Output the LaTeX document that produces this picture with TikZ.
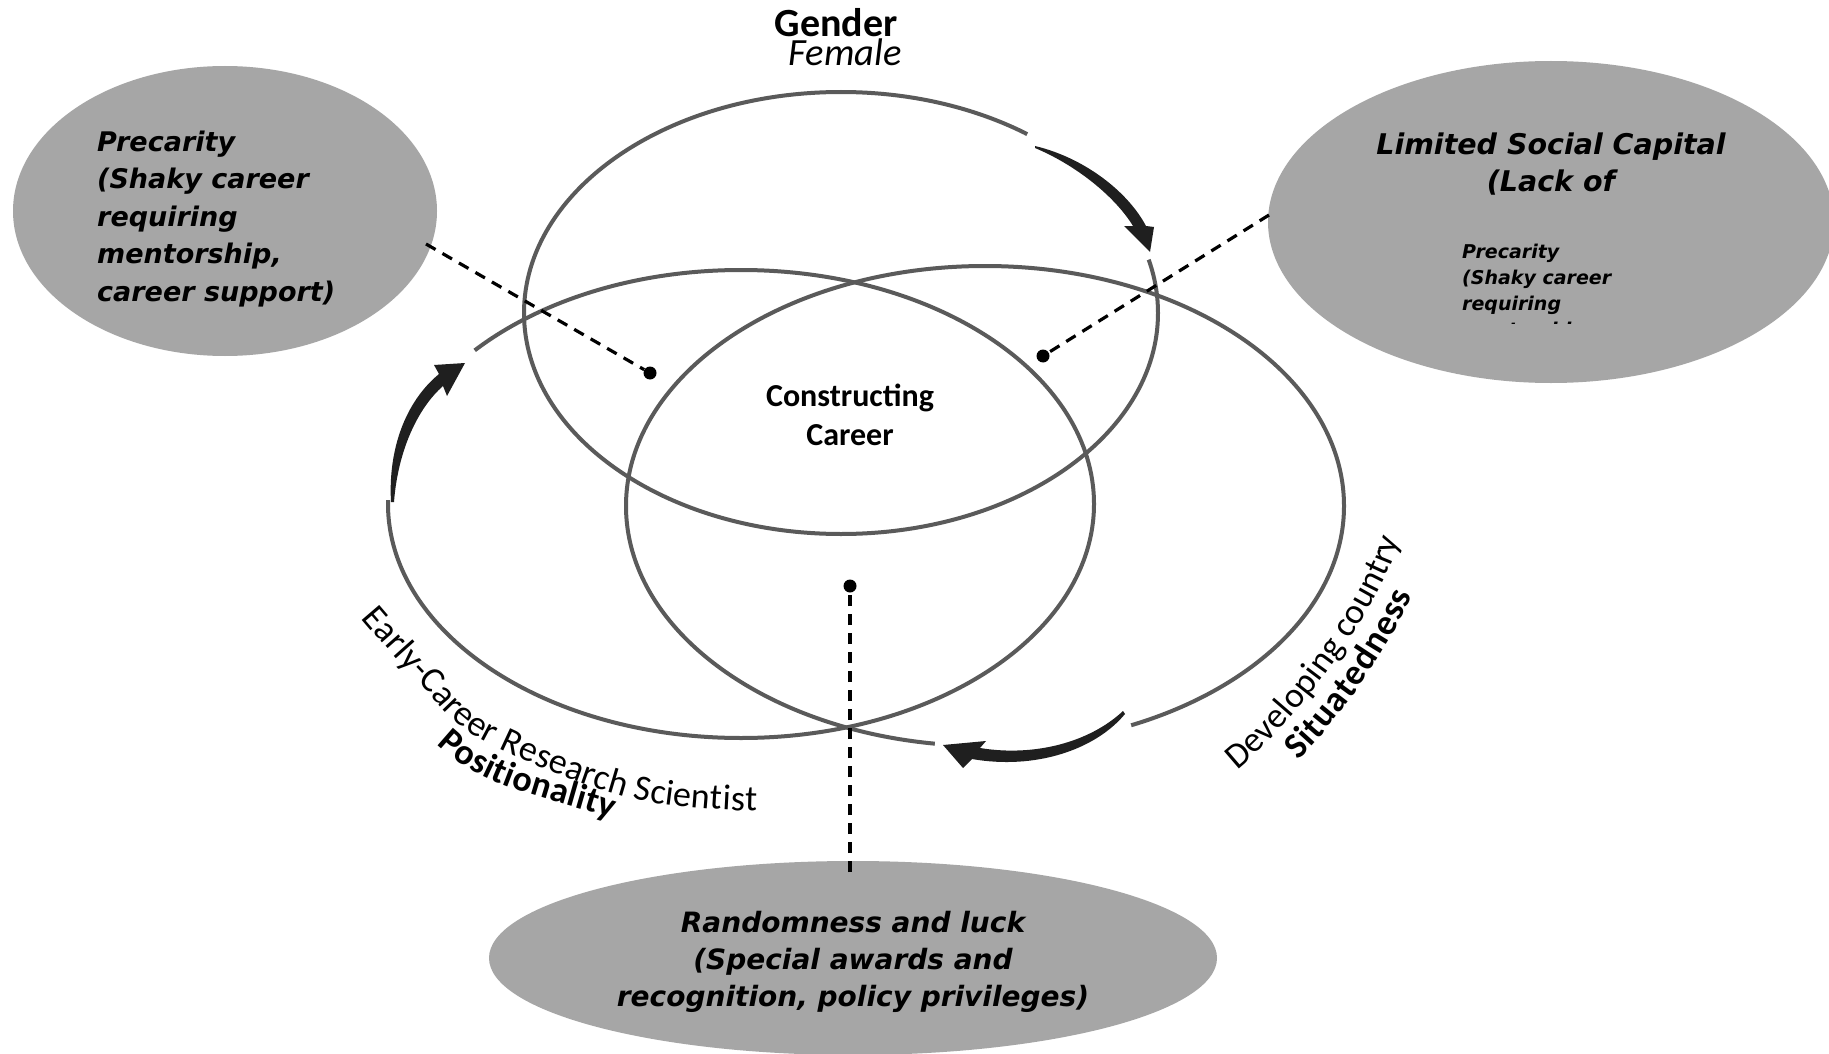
\documentclass[tikz,border=0pt]{standalone}
\usepackage{fontspec}
\usetikzlibrary{shapes.geometric,decorations.text}
\newfontfamily\labelfont{Carlito}
\newfontfamily\bubblefont{DejaVu Sans Bold Oblique}
\definecolor{ringgray}{HTML}{5A5A5A}
\definecolor{bubblegray}{HTML}{A6A6A6}
\begin{document}
\begin{tikzpicture}[x=1pt,y=-1pt,
  ring/.style={draw=ringgray, line width=4pt},
  bubble/.style={ellipse, fill=bubblegray, draw=none, inner sep=0pt},
  gapmask/.style={draw=white, line width=10pt},
  linkline/.style={black, line width=3.2pt, dash pattern=on 11pt off 8pt},
  dot/.style={circle, fill=black, inner sep=0pt, minimum size=13pt},
  swoosh/.style={fill=black!88, draw=none},
  bubbletext/.style={font=\bubblefont\fontsize{27}{37.5}\selectfont, inner sep=0pt},
]
\useasboundingbox (0,0) rectangle (1829,1054);
\fill[white] (0,0) rectangle (1829,1054);
\clip (0,0) rectangle (1829,1054);

% shaded factor bubbles
\node[bubble, minimum width=424pt, minimum height=290pt] (precBubble) at (225,211) {};
\node[bubble, minimum width=566pt, minimum height=322pt] (socialBubble) at (1551,222) {};
\node[bubble, minimum width=728pt, minimum height=194pt] (luckBubble) at (853,958) {};

% the three overlapping rings
\draw[ring] (841,313) ellipse [x radius=317, y radius=221];
\draw[ring] (741,504) ellipse [x radius=353, y radius=234];
\draw[ring] (985,506) ellipse [x radius=359, y radius=240];

% openings in the rings behind the curved arrows
\draw[gapmask] (841,313) ++(-14:317 and 221) arc[start angle=-14, end angle=-54, x radius=317, y radius=221];
\draw[gapmask] (741,504) ++(-139:353 and 234) arc[start angle=-139, end angle=-179, x radius=353, y radius=234];
\draw[gapmask] (985,506) ++(66:359 and 240) arc[start angle=66, end angle=98, x radius=359, y radius=240];

% curved arrows
\fill[swoosh] (1035,146) .. controls (1085,158) and (1128,192) .. (1146,226) -- (1154,227) -- (1150,252)
  -- (1124,226) -- (1133,226) .. controls (1116,198) and (1078,166) .. (1035,148) -- cycle;
\fill[swoosh] (391,502) .. controls (388,450) and (405,402) .. (439,374) -- (434,365) -- (465,363)
  -- (447,396) -- (443,386) .. controls (418,408) and (398,450) .. (394,502) -- cycle;
\fill[swoosh] (1123,711) .. controls (1090,742) and (1035,757) .. (980,748) -- (986,741) -- (943,745)
  -- (963,768) -- (972,759) .. controls (1035,770) and (1095,750) .. (1125,714) -- cycle;

% intersection markers and their links to the bubbles
\node[dot] (dotGC) at (650,373) {};
\node[dot] (dotGS) at (1043,356) {};
\node[dot] (dotCS) at (850,586) {};
\coordinate (precLinkEnd) at (426,244);
\coordinate (socialLinkEnd) at (1269,215);
\coordinate (luckLinkEnd) at (850,872);
\draw[linkline] (precLinkEnd) -- (dotGC);
\draw[linkline] (socialLinkEnd) -- (dotGS);
\draw[linkline] (luckLinkEnd) -- (dotCS);

% ring labels
\node[font=\labelfont\bfseries\fontsize{40}{40}\selectfont, anchor=base, inner sep=0pt] (genderTitle) at (836,37) {Gender};
\node[font=\labelfont\itshape\fontsize{38.5}{38.5}\selectfont, anchor=base, inner sep=0pt] (genderValue) at (845,66) {Female};
\node[font=\labelfont\bfseries\fontsize{32}{39}\selectfont, align=center, inner sep=0pt] (core) at (850,415) {Constructing\\Career};

\path[decorate, decoration={text along path, text align=fit to path,
  text={|\labelfont\fontsize{36}{36}\selectfont|Early-Career Research Scientist}}]
  plot[smooth, tension=0.6] coordinates {(361,618) (419,683) (482,740) (630,798) (757,811)};
\path[decorate, decoration={text along path, text align=fit to path,
  text={|\labelfont\bfseries\fontsize{36}{36}\selectfont|Positionality}}]
  (437,744) .. controls (482,789) and (555,799) .. (612,819);
\path[decorate, decoration={text along path, text align=fit to path,
  text={|\labelfont\fontsize{35.5}{35.5}\selectfont|Developing country}}]
  (1237,770) .. controls (1292,727) and (1377,615) .. (1400,540);
\path[decorate, decoration={text along path, text align=fit to path,
  text={|\labelfont\bfseries\fontsize{36}{36}\selectfont|Situatedness}}]
  (1298,760) .. controls (1335,725) and (1394,643) .. (1412,595);

% bubble texts
\node[bubbletext, align=left, anchor=north west] (precText) at (97,130.5)
  {Precarity\\(Shaky career\\requiring\\mentorship,\\career support)};
\node[font=\bubblefont\fontsize{28.5}{37}\selectfont, align=center, anchor=north, inner sep=0pt] (socialTitle) at (1551,133)
  {Limited Social Capital\\(Lack of};
\begin{scope}
  \clip (1440,235) rectangle (1720,323.5);
  \node[font=\bubblefont\fontsize{19}{26}\selectfont, align=left, anchor=north west, inner sep=0pt] (socialDetail) at (1462,244)
    {Precarity\\(Shaky career\\requiring\\mentorship,};
\end{scope}
\node[font=\bubblefont\fontsize{28}{37}\selectfont, align=center, anchor=north, inner sep=0pt] (luckText) at (853,911)
  {Randomness and luck\\(Special awards and\\recognition, policy privileges)};
\end{tikzpicture}
\end{document}
